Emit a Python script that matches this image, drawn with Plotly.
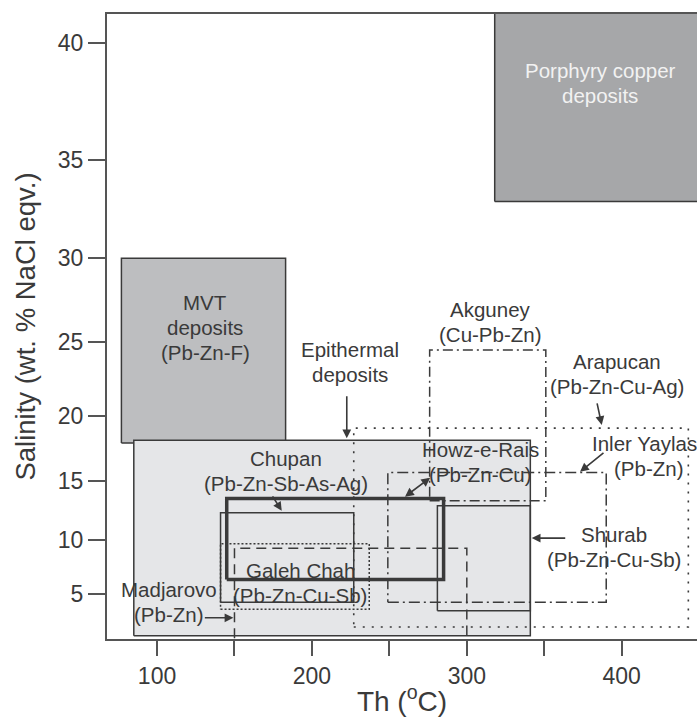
import numpy as np
import plotly.graph_objects as go

# ---------------- data ----------------
# Boxes: homogenisation temperature (Th, degC) and salinity (wt.% NaCl eqv.) ranges
box_names = ["Porphyry copper deposits", "MVT deposits", "Epithermal deposits",
             "Arapucan", "Akguney", "Inler Yaylası", "Madjarovo",
             "Galeh Chah", "Chupan", "Shurab", "Howz-e-Rais"]
th_min = [318, 77, 85, 227, 276, 249, 150, 141, 141, 281, 145]
th_max = [520, 183, 341, 443, 351, 390, 300, 237, 227, 341, 285]
sal_min = [33.0, 18.0, 0.8, 1.7, 13.4, 4.2, 0.0, 3.5, 4.2, 3.35, 6.4]
sal_max = [46.0, 30.0, 18.2, 19.1, 24.5, 15.7, 9.3, 9.7, 12.4, 13.0, 13.6]

# Labels (lines of each label)
label_lines = [["Porphyry copper", "deposits"],
               ["MVT", "deposits", "(Pb-Zn-F)"],
               ["Epithermal", "deposits"],
               ["Akguney", "(Cu-Pb-Zn)"],
               ["Arapucan", "(Pb-Zn-Cu-Ag)"],
               ["Inler Yaylas", "(Pb-Zn)"],
               ["Howz-e-Rais", "(Pb-Zn-Cu)"],
               ["Shurab", "(Pb-Zn-Cu-Sb)"],
               ["Chupan", "(Pb-Zn-Sb-As-Ag)"],
               ["Galeh Chah", "(Pb-Zn-Cu-Sb)"],
               ["Madjarovo", "(Pb-Zn)"]]
label_th = [386, 131, 224.6, 315, 397, 417, 308.8, 395, 183.3, 192.3, 107.7]
label_sal = [38.4, 25.9, 23.7, 26.25, 22.9, 17.0, 16.56, 9.36, 15.85, 6.1, 4.22]

# Arrows: tail (th, sal) -> head (th, sal)
arrow_names = ["Epithermal", "Chupan", "Howz-e-Rais", "Madjarovo", "Arapucan", "Inler Yaylası", "Shurab"]
arrow_th0 = [222.5, 174.0, 277.3, 129.9, 383.9, 389.2, 364.5]
arrow_sal0 = [21.5, 13.9, 15.37, 2.64, 21.0, 17.33, 10.2]
arrow_th1 = [222.5, 180.5, 260.1, 149.3, 387.1, 373.1, 341.9]
arrow_sal1 = [18.35, 12.57, 13.75, 2.64, 19.33, 15.76, 10.2]
arrow_double = [False, False, True, False, False, False, False]

# Axis ticks
th_ticks = [100, 200, 300, 400]
sal_ticks = [5, 10, 15, 20, 25, 30, 35, 40]
th_range = [67.7, 448.6]
sal_range = [0.45, 41.1]

# ---------------- scale ----------------
# The salinity axis of the original diagram is stretched towards high salinity;
# it follows a reversed logarithmic scale of (SAL_REF - salinity).
SAL_REF = 63.0


def u(s):
    return SAL_REF - np.asarray(s, dtype=float)


def ulog(s):
    return float(np.log10(SAL_REF - s))


# ---------------- styles ----------------
TXT = "#3a3a3a"
LINE = "#3a3a3a"
FONT = "Liberation Sans, Arial, sans-serif"
LABEL_SIZE = 20.5
LINE_H = 25
styles = {
    "Porphyry copper deposits": dict(fill="#a6a7a9", dash="solid", width=1.5),
    "MVT deposits": dict(fill="#bdbec0", dash="solid", width=1.5),
    "Epithermal deposits": dict(fill="#e5e6e8", dash="solid", width=1.5),
    "Arapucan": dict(fill=None, dash="2px,7px", width=1.6),
    "Akguney": dict(fill=None, dash="10px,4px,2px,4px", width=1.5),
    "Inler Yaylası": dict(fill=None, dash="11px,4px,2px,4px", width=1.5),
    "Madjarovo": dict(fill=None, dash="10px,6px", width=1.5),
    "Galeh Chah": dict(fill=None, dash="2px,2px", width=1.5),
    "Chupan": dict(fill=None, dash="solid", width=1.5),
    "Shurab": dict(fill=None, dash="solid", width=1.5),
    "Howz-e-Rais": dict(fill=None, dash="solid", width=3.5),
}

fig = go.Figure()
for name, x0, x1, y0, y1 in zip(box_names, th_min, th_max, sal_min, sal_max):
    st = styles[name]
    xs = [x0, x1, x1, x0, x0]
    ys = u([y0, y0, y1, y1, y0])
    fig.add_trace(go.Scatter(
        x=xs, y=ys, mode="lines", name=name,
        line=dict(color=LINE, width=st["width"], dash=st["dash"]),
        fill="toself" if st["fill"] else None,
        fillcolor=st["fill"] if st["fill"] else None,
        hoverinfo="name", showlegend=False,
    ))

annotations = []
for i, (lines, x, y) in enumerate(zip(label_lines, label_th, label_sal)):
    color = "#f2f2f2" if i == 0 else TXT
    n = len(lines)
    for j, line in enumerate(lines):
        ann = dict(
            x=x, y=ulog(y), xref="x", yref="y", text=line, showarrow=False,
            font=dict(family=FONT, size=LABEL_SIZE, color=color), align="center",
            xanchor="center", yanchor="middle",
            yshift=((n - 1) / 2 - j) * LINE_H,
        )
        if lines[0] == "Inler Yaylas" and j == 0:
            # the reference crops this label at the right-hand edge
            ann["xanchor"] = "right"
            ann["xshift"] = 51
        annotations.append(ann)

for x0, y0, x1, y1, dbl in zip(arrow_th0, arrow_sal0, arrow_th1, arrow_sal1, arrow_double):
    annotations.append(dict(
        x=x1, y=ulog(y1), ax=x0, ay=ulog(y0), xref="x", yref="y", axref="x", ayref="y",
        text="", showarrow=True, arrowhead=2, arrowsize=1.1, arrowwidth=1.6,
        arrowcolor=LINE, arrowside="end+start" if dbl else "end",
        startarrowhead=2, startarrowsize=1.1,
    ))

fig.update_layout(
    width=697, height=717,
    margin=dict(l=107, r=0, t=14, b=78),
    paper_bgcolor="white", plot_bgcolor="white",
    showlegend=False,
    annotations=annotations,
    font=dict(family=FONT, color=TXT),
)
fig.update_xaxes(
    range=th_range, showgrid=False, zeroline=False,
    showline=True, linecolor="#555555", linewidth=2, mirror=True,
    ticks="outside", ticklen=15, tickwidth=2, tickcolor="#555555",
    tickvals=th_ticks,
    minor=dict(ticks="outside", dtick=50, tick0=0, ticklen=15, tickwidth=2, tickcolor="#555555", showgrid=False),
    tickfont=dict(family=FONT, size=23, color=TXT),
    title=dict(text="Th (<sup>o</sup>C)", font=dict(family=FONT, size=28, color=TXT), standoff=4),
)
fig.update_yaxes(
    type="log", range=[ulog(sal_range[0]), ulog(sal_range[1])],
    showgrid=False, zeroline=False,
    showline=True, linecolor="#555555", linewidth=2, mirror=False,
    ticks="outside", ticklen=17, tickwidth=2, tickcolor="#555555",
    tickvals=list(u(sal_ticks)), ticktext=[str(s) for s in sal_ticks],
    tickfont=dict(family=FONT, size=23, color=TXT),
    title=dict(text="Salinity (wt. % NaCl eqv.)", font=dict(family=FONT, size=27.5, color=TXT), standoff=14),
)

fig.write_html(
    "out.html",
    config={"displayModeBar": False},
    post_script="document.body.style.margin='0px';document.body.style.overflow='hidden';",
)
